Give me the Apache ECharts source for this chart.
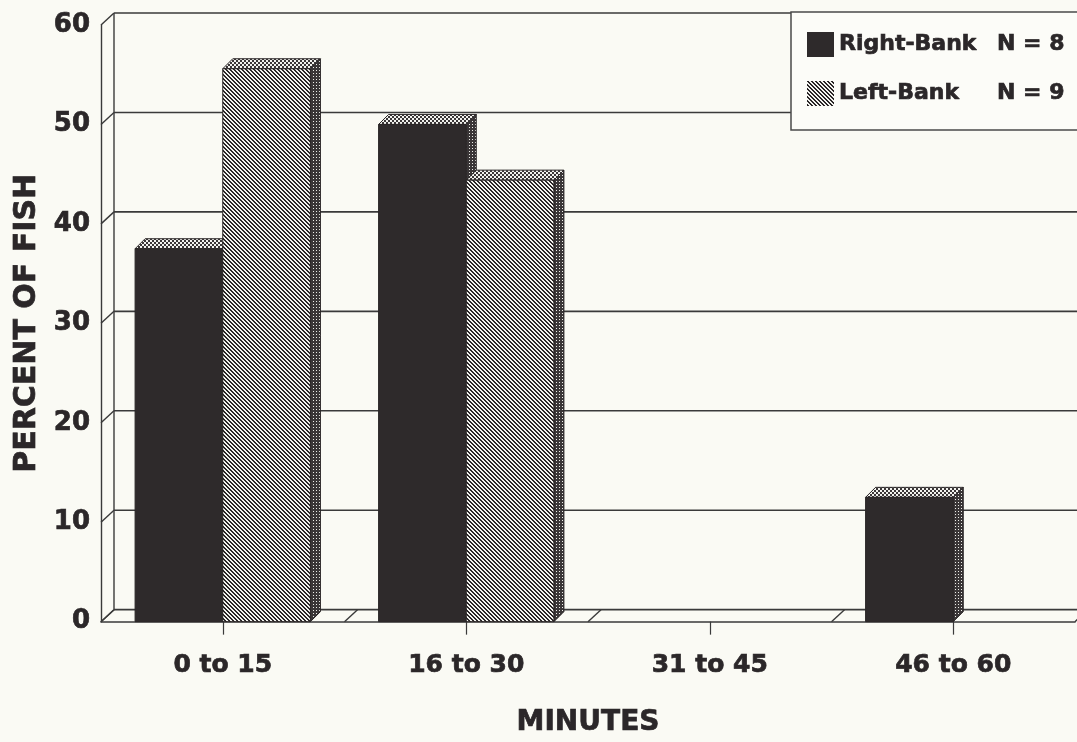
<!DOCTYPE html>
<html>
<head>
<meta charset="utf-8">
<style>
  html, body { margin: 0; padding: 0; background: #fafaf4; }
  #chart { width: 1077px; height: 742px; }
</style>
<script src="https://cdn.jsdelivr.net/npm/echarts@6/dist/echarts.min.js"></script>
</head>
<body>
<div id="chart"></div>
<script>
// Time to pass (minutes) and percent of fish, by river bank
const categories = ['0 to 15', '16 to 30', '31 to 45', '46 to 60'];
const rightBank = [37.5, 50, 0, 12.5];
const leftBank = [55.6, 44.4, 0, 0];
const seriesNames = ['Right-Bank', 'Left-Bank'];
const seriesN = [8, 9];
const yTicks = [0, 10, 20, 30, 40, 50, 60];

const INK = '#2b2729';
const FONT = 'DejaVu Sans';
// heavy lettering: bold face plus a thin outline in the same ink
const heavy = { fontFamily: FONT, fontWeight: 'bold', color: INK, textBorderColor: INK, textBorderWidth: 0.7 };

// Pixel patterns used for the faces of the 3-D bars
function makePattern(size, isDark, dark, light) {
  const c = document.createElement('canvas');
  c.width = size; c.height = size;
  const ctx = c.getContext('2d');
  const img = ctx.createImageData(size, size);
  const d = [parseInt(dark.slice(1, 3), 16), parseInt(dark.slice(3, 5), 16), parseInt(dark.slice(5, 7), 16)];
  const l = [parseInt(light.slice(1, 3), 16), parseInt(light.slice(3, 5), 16), parseInt(light.slice(5, 7), 16)];
  for (let y = 0; y < size; y++) {
    for (let x = 0; x < size; x++) {
      const col = isDark(x, y) ? d : l;
      const i = (y * size + x) * 4;
      img.data[i] = col[0]; img.data[i + 1] = col[1]; img.data[i + 2] = col[2]; img.data[i + 3] = 255;
    }
  }
  ctx.putImageData(img, 0, 0);
  return { image: c, repeat: 'repeat' };
}

const hatch = makePattern(4, (x, y) => (((x - y) % 4) + 4) % 4 < 2, '#2a2627', '#f4f4f0');
const topDots = makePattern(4, (x, y) => ((x < 2) === (y < 2)), '#3a3637', '#f2f2ee');
const sideDots = makePattern(3, (x, y) => !(x === 1 && y === 1), '#3a3637', '#eeeeea');
const solidDark = '#2e2a2b';

const WALL_DX = 13, WALL_DY = 12;   // depth of the back wall
const BAR_D = 10;                     // depth of each bar
const BAR_FRAC = 0.36;                // bar width as a share of the category band

// back wall grid, left wall ticks and floor edges
function renderWall(params, api) {
  const cs = params.coordSys;
  const v = api.value(1);
  const p = api.coord([0, v]);
  const y = p[1];
  const x0 = cs.x;
  const children = [
    { type: 'line', shape: { x1: x0 + WALL_DX, y1: y - WALL_DY, x2: x0 + cs.width + 40, y2: y - WALL_DY },
      style: { stroke: '#3a3a3a', lineWidth: 1.6 } },
    { type: 'line', shape: { x1: x0, y1: y, x2: x0 + WALL_DX, y2: y - WALL_DY },
      style: { stroke: '#3a3a3a', lineWidth: 1.4 } }
  ];
  if (params.dataIndex === 0) {
    children.push({ type: 'line',
      shape: { x1: x0 + WALL_DX, y1: cs.y - WALL_DY, x2: x0 + WALL_DX, y2: cs.y + cs.height - WALL_DY },
      style: { stroke: '#3a3a3a', lineWidth: 1.4 } });
  }
  return { type: 'group', children };
}

function renderFloor(params, api) {
  const cs = params.coordSys;
  const idx = api.value(0);
  const band = api.size([1, 0])[0];
  const c = api.coord([idx, 0]);
  const x = c[0] - band / 2;
  const y = cs.y + cs.height;
  return { type: 'line', shape: { x1: x, y1: y, x2: x + WALL_DX, y2: y - WALL_DY },
    style: { stroke: '#3a3a3a', lineWidth: 1.4 } };
}

function makeBarRenderer(side, frontFill) {
  return function (params, api) {
    const idx = api.value(0);
    const val = api.value(1);
    if (!val) return null;
    const band = api.size([1, 0])[0];
    const w = band * BAR_FRAC;
    const top = api.coord([idx, val]);
    const base = api.coord([idx, 0]);
    const x = side === 0 ? top[0] - w : top[0];
    const y1 = top[1], y0 = base[1];
    const st = { stroke: '#2a2627', lineWidth: 1 };
    return {
      type: 'group',
      children: [
        { type: 'polygon', shape: { points: [[x + w, y1], [x + w + BAR_D, y1 - BAR_D], [x + w + BAR_D, y0 - BAR_D], [x + w, y0]] },
          style: Object.assign({ fill: sideDots }, st) },
        { type: 'polygon', shape: { points: [[x, y1], [x + BAR_D, y1 - BAR_D], [x + w + BAR_D, y1 - BAR_D], [x + w, y1]] },
          style: Object.assign({ fill: topDots }, st) },
        { type: 'rect', shape: { x: x, y: y1, width: w, height: y0 - y1 },
          style: Object.assign({ fill: frontFill }, st) }
      ]
    };
  };
}

const chart = echarts.init(document.getElementById('chart'), null, { renderer: 'canvas' });

const legendLabels = {};
seriesNames.forEach((n, i) => { legendLabels[n] = seriesN[i]; });

chart.setOption({
  backgroundColor: '#fafaf4',
  animation: false,
  grid: { left: 101, right: 2, top: 25, bottom: 115 },
  xAxis: {
    type: 'category',
    data: categories,
    name: 'MINUTES',
    nameLocation: 'middle',
    nameGap: 87,
    nameTextStyle: Object.assign({ fontSize: 28 }, heavy),
    axisLine: { show: true, lineStyle: { color: '#3a3a3a', width: 1.6 } },
    axisTick: { show: true, alignWithLabel: true, length: 13, lineStyle: { color: '#3a3a3a', width: 1.2 } },
    axisLabel: Object.assign({ margin: 31, fontSize: 25 }, heavy),
    splitLine: { show: false }
  },
  yAxis: {
    type: 'value',
    min: 0, max: 60, interval: 10,
    name: 'PERCENT OF FISH',
    nameLocation: 'middle',
    nameGap: 52,
    nameTextStyle: Object.assign({ fontSize: 30 }, heavy),
    axisLine: { show: true, lineStyle: { color: '#3a3a3a', width: 1.4 } },
    axisTick: { show: false },
    axisLabel: Object.assign({ margin: 11, fontSize: 26 }, heavy),
    splitLine: { show: false }
  },
  legend: {
    orient: 'vertical',
    left: 791, top: 12,
    padding: [20, 40, 24, 16],
    itemWidth: 27, itemHeight: 25, itemGap: 24,
    borderColor: '#4a4a4a', borderWidth: 1.5,
    backgroundColor: '#fcfcf8',
    data: [
      { name: seriesNames[0], icon: 'rect', itemStyle: { color: solidDark } },
      { name: seriesNames[1], icon: 'rect', itemStyle: { color: hatch } }
    ],
    formatter: (name) => '{n|' + name + '}{v|N = ' + legendLabels[name] + '}',
    textStyle: {
      color: INK,
      rich: {
        n: Object.assign({ width: 158, fontSize: 22 }, heavy),
        v: Object.assign({ fontSize: 22 }, heavy)
      }
    }
  },
  series: [
    {
      name: 'wall', type: 'custom', silent: true, z: 1,
      renderItem: renderWall,
      data: yTicks.map(v => [0, v])
    },
    {
      name: 'floor', type: 'custom', silent: true, z: 1,
      renderItem: renderFloor,
      data: categories.map((c, i) => [i, 0]).concat([[categories.length, 0]])
    },
    {
      name: seriesNames[0], type: 'custom', z: 3,
      itemStyle: { color: solidDark },
      renderItem: makeBarRenderer(0, solidDark),
      data: rightBank.map((v, i) => [i, v])
    },
    {
      name: seriesNames[1], type: 'custom', z: 4,
      itemStyle: { color: hatch },
      renderItem: makeBarRenderer(1, hatch),
      data: leftBank.map((v, i) => [i, v])
    }
  ]
});
</script>
</body>
</html>
